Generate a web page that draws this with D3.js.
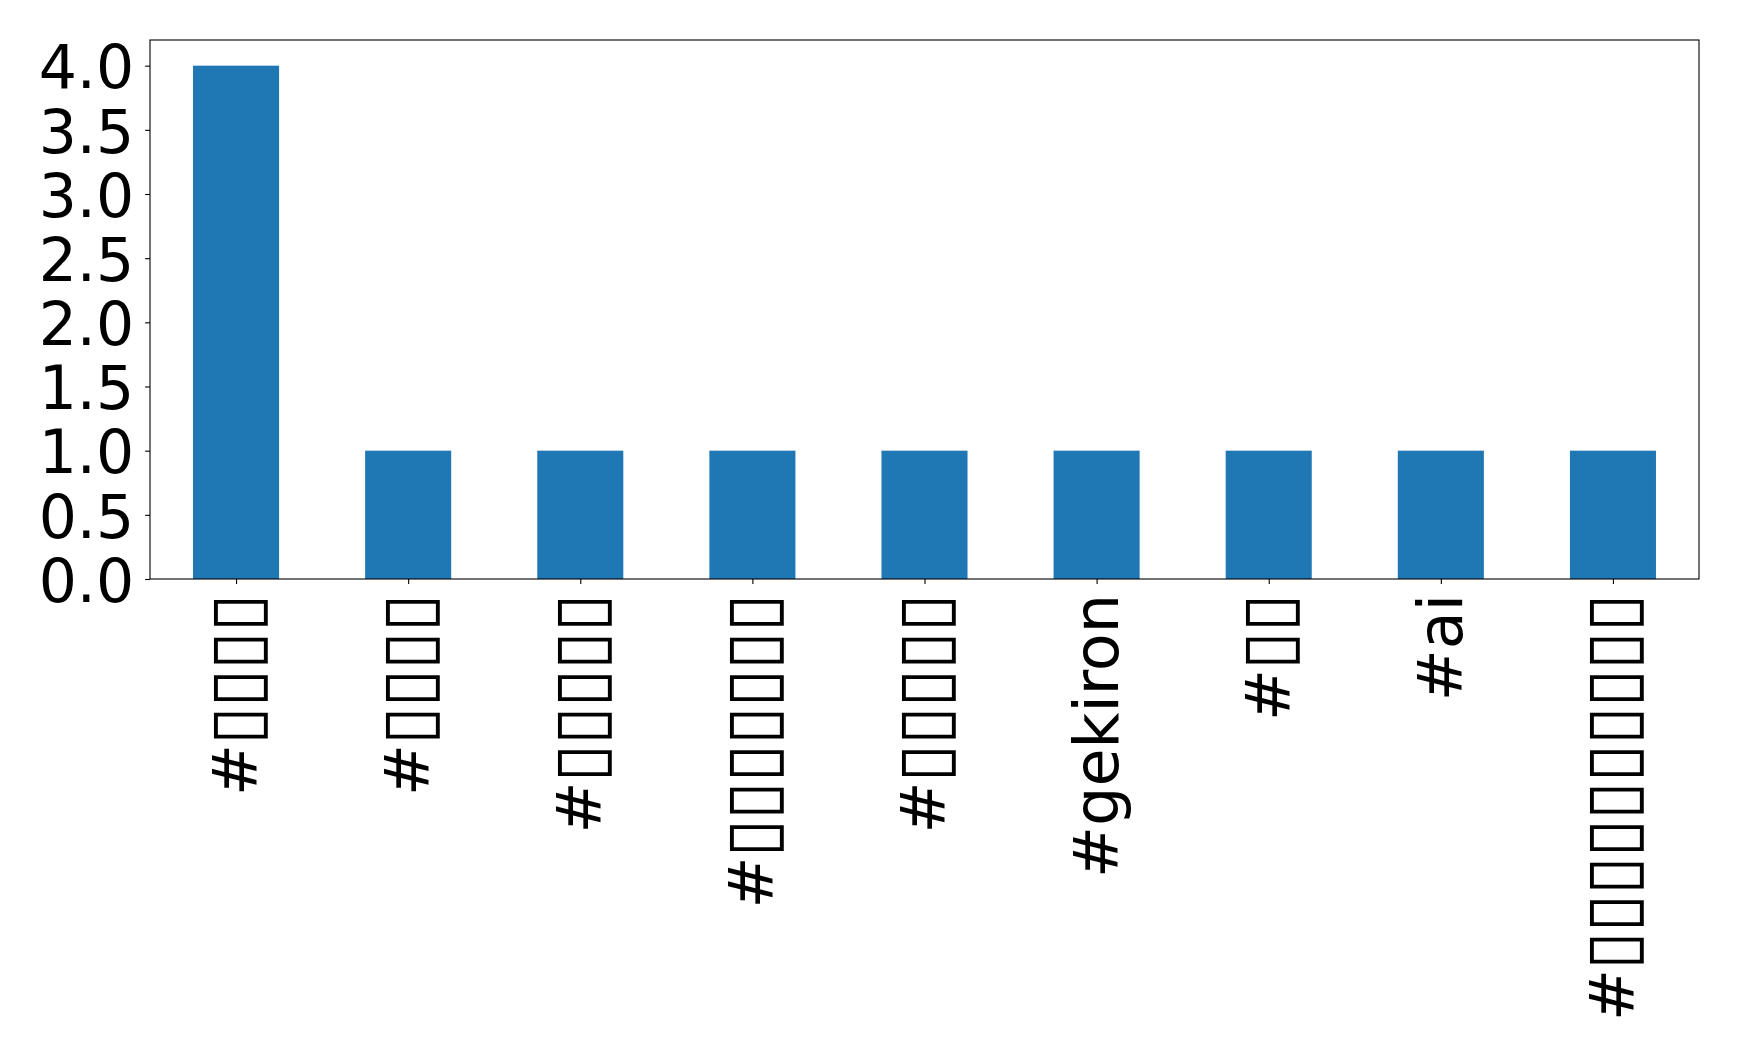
<!DOCTYPE html>
<html><head><meta charset="utf-8">
<script src="https://cdn.jsdelivr.net/npm/d3@7"></script>
<style>body{margin:0;background:#fff}svg{display:block}</style>
</head><body>
<svg id="c" width="1739" height="1056"></svg>
<script>
// Category labels: the Japanese characters of the original render as empty boxes (▯)
const categories = ["#▯▯▯▯","#▯▯▯▯","#▯▯▯▯▯","#▯▯▯▯▯▯▯","#▯▯▯▯▯","#gekiron","#▯▯","#ai","#▯▯▯▯▯▯▯▯▯▯"];
const values = [4,1,1,1,1,1,1,1,1];
const yTicks = [0,0.5,1,1.5,2,2.5,3,3.5,4];

const W=1739,H=1056;
const m={l:150,r:1699,t:40,b:579};
const FONT="DejaVu Sans";
const fs=61, fsY=60, fsX=62;
const svg=d3.select("#c");
const x=d3.scaleLinear().domain([-0.5,categories.length-0.5]).range([m.l,m.r]);
const y=d3.scaleLinear().domain([0,4.2]).range([m.b,m.t]);

// bars
svg.append("g").selectAll("rect").data(values).join("rect")
  .attr("x",(d,i)=>x(i-0.25)).attr("width",(d,i)=>x(i+0.25)-x(i-0.25))
  .attr("y",d=>y(d)).attr("height",d=>y(0)-y(d)).attr("fill","#1f77b4");

// y axis
const ya=svg.append("g").attr("transform",`translate(${m.l},0)`)
  .call(d3.axisLeft(y).tickValues(yTicks).tickFormat(d3.format(".1f")).tickSize(4.9).tickPadding(11));
ya.select(".domain").remove();
ya.selectAll("line").attr("stroke","#000").attr("stroke-width",1.1);
ya.selectAll("text").attr("font-family",FONT).attr("font-size",fsY).attr("fill","#000").attr("dy","0.37em");

// x axis ticks
const xa=svg.append("g").attr("transform",`translate(0,${m.b})`)
  .call(d3.axisBottom(x).tickValues(d3.range(categories.length)).tickFormat("").tickSize(4.9));
xa.select(".domain").remove();
xa.selectAll("line").attr("stroke","#000").attr("stroke-width",1.1);

// measure glyphs
const cv=document.createElement("canvas").getContext("2d");
function meas(str,size){cv.font=`${size}px "${FONT}"`;return cv.measureText(str);}
const bm=meas("▯",100);
const bAsc=bm.actualBoundingBoxAscent,bDesc=bm.actualBoundingBoxDescent;
const bLeft=bm.actualBoundingBoxLeft,bRight=bm.actualBoundingBoxRight;
const boxS=0.90*fs*100/(bAsc+bDesc);           // font size for box glyph
const boxInkW=(bLeft+bRight)*boxS/100;
const step=0.615*fs;                           // advance per box
const baseY=0.344*fs;                          // baseline offset from tick
const boxY=baseY+0.175*fs-bDesc*boxS/100;

function runs(s){
  const out=[];let cur=null;
  for(const ch of s){const isB=ch==="▯";
    if(!cur||cur.box!==isB){cur={box:isB,t:""};out.push(cur);}cur.t+=ch;}
  return out;
}
categories.forEach((lab,i)=>{
  const rs=runs(lab);
  let L=0;rs.forEach(r=>{r.w=r.box?[...r.t].length*step:meas(r.t,fsX).width;L+=r.w;});
  const t=xa.append("text").attr("font-family",FONT).attr("font-size",fsX).attr("fill","#000")
    .attr("text-anchor","start")
    .attr("transform",`translate(${x(i)},15) rotate(-90)`);
  let pos=-L;
  rs.forEach(r=>{
    if(r.box){
      const n=[...r.t].length;
      const xs=d3.range(n).map(k=>(pos+k*step+(step-boxInkW)/2+bLeft*boxS/100).toFixed(2));
      t.append("tspan").attr("x",xs.join(" ")).attr("y",boxY).attr("font-size",boxS).text(r.t);
    } else {
      t.append("tspan").attr("x",pos).attr("y",baseY).text(r.t);
    }
    pos+=r.w;
  });
});

// frame
svg.append("rect").attr("x",m.l).attr("y",m.t).attr("width",m.r-m.l).attr("height",m.b-m.t)
  .attr("fill","none").attr("stroke","#000").attr("stroke-width",1.1);
</script>
</body></html>
